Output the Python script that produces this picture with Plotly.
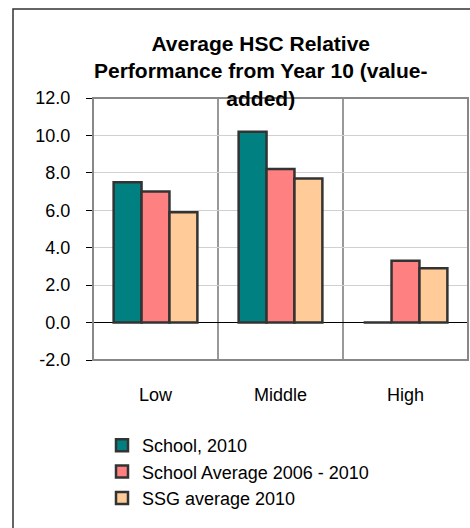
import plotly.graph_objects as go

# Value-added bands and series
categories = ["Low", "Middle", "High"]
school_2010 = [7.5, 10.2, 0.0]
school_avg_2006_2010 = [7.0, 8.2, 3.3]
ssg_avg_2010 = [5.9, 7.7, 2.9]

series_names = ["School, 2010", "School Average 2006 - 2010", "SSG average 2010"]
series_colors = ["#008080", "#FF8080", "#FFCC99"]
y_tick_values = [-2, 0, 2, 4, 6, 8, 10, 12]

# Canvas and plot-area geometry (pixels)
FIG_W, FIG_H = 470, 528
PLOT_L, PLOT_R, PLOT_T, PLOT_B = 93, 468, 98, 360
PW, PH = PLOT_R - PLOT_L, PLOT_B - PLOT_T


def px_x(p):
    return (p - PLOT_L) / PW


def px_y(p):
    return (PLOT_B - p) / PH


FONT = "Liberation Sans, Arial, sans-serif"
OUTLINE = "#333333"

fig = go.Figure()
for name, vals, col in zip(series_names,
                           [school_2010, school_avg_2006_2010, ssg_avg_2010],
                           series_colors):
    fig.add_trace(go.Bar(
        x=categories, y=vals, name=name,
        marker=dict(color=col, line=dict(color=OUTLINE, width=2.5)),
    ))

# Category-axis tick marks crossing the zero line
n = len(categories)
fig.add_trace(go.Scatter(
    x=[i for i in range(n)] + [i + 0.5 for i in range(n)],
    y=[0] * (2 * n),
    mode="markers",
    marker=dict(symbol="line-ns", size=9, line=dict(color="black", width=1)),
    showlegend=False, hoverinfo="skip",
))

fig.update_layout(
    width=FIG_W, height=FIG_H,
    margin=dict(l=PLOT_L, r=FIG_W - PLOT_R, t=PLOT_T, b=FIG_H - PLOT_B, pad=0),
    paper_bgcolor="white", plot_bgcolor="white",
    font=dict(family=FONT, size=18, color="black"),
    barmode="group", bargap=0.33, bargroupgap=0,
    showlegend=True,
    legend=dict(
        x=px_x(102), xanchor="left", y=px_y(427), yanchor="top",
        font=dict(size=18), bgcolor="rgba(0,0,0,0)",
        itemwidth=30, tracegroupgap=0,
    ),
    xaxis=dict(
        range=[-0.5, n - 0.5], tickson="boundaries",
        showgrid=True, gridcolor="#999999", gridwidth=1.5,
        ticks="", showline=False, zeroline=False,
        ticklabelstandoff=22, tickfont=dict(size=18),
    ),
    yaxis=dict(
        range=[-2, 12], tickvals=y_tick_values,
        ticktext=[f"{v:.1f}" for v in y_tick_values],
        showgrid=True, gridcolor="#d0d0d0", gridwidth=1,
        zeroline=True, zerolinecolor="black", zerolinewidth=1,
        showline=True, linecolor="black", linewidth=1,
        ticks="outside", ticklen=6, tickcolor="black",
        ticklabelstandoff=12, tickfont=dict(size=18),
    ),
    shapes=[
        # plot-area border
        dict(type="rect", xref="paper", yref="paper", x0=0, x1=1, y0=0, y1=1,
             line=dict(color="#888888", width=2), layer="above"),
        # outer chart frame (left and top edges)
        dict(type="path", xref="paper", yref="paper",
             path=f"M {px_x(13)},{px_y(FIG_H + 5)} L {px_x(13)},{px_y(9)} L {px_x(FIG_W + 5)},{px_y(9)}",
             line=dict(color="#333333", width=1.5)),
    ],
    annotations=[
        dict(text="<b>Average HSC Relative<br>Performance from Year 10 (value-<br>added)</b>",
             xref="paper", yref="paper", x=px_x(260), y=px_y(71),
             xanchor="center", yanchor="middle", showarrow=False,
             font=dict(size=21, family=FONT, color="black")),
    ],
)

fig.write_html("out.html")
